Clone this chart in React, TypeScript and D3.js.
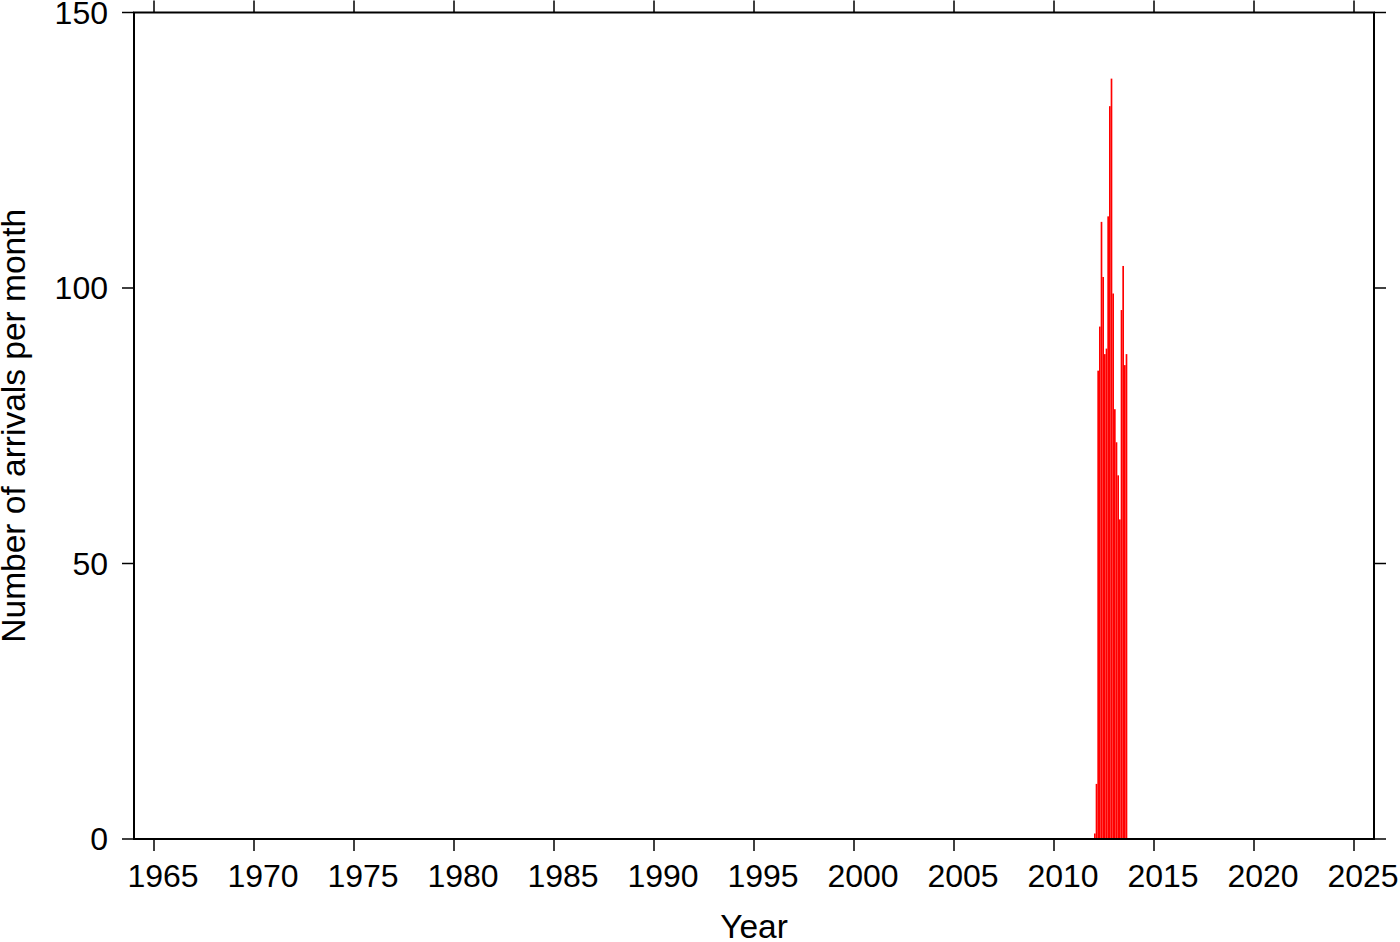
import React from "react";
import * as d3 from "d3";

const months: string[] = [
  "2012-01", "2012-02", "2012-03", "2012-04", "2012-05", "2012-06", "2012-07", "2012-08", "2012-09", "2012-10",
  "2012-11", "2012-12", "2013-01", "2013-02", "2013-03", "2013-04", "2013-05", "2013-06", "2013-07", "2013-08",
];
const arrivals: number[] = [1, 10, 85, 93, 112, 102, 88, 89, 113, 133, 138, 99, 78, 72, 66, 58, 96, 104, 86, 88];
const xTickYears: number[] = [1965, 1970, 1975, 1980, 1985, 1990, 1995, 2000, 2005, 2010, 2015, 2020, 2025];
const yTicks: number[] = [0, 50, 100, 150];

const W = 1400;
const H = 942;
const FONT = "'Liberation Sans', Arial, Helvetica, sans-serif";

export default function App() {
  const left = 134, right = 1374, top = 12.5, bottom = 839;
  const x = d3.scaleLinear().domain([1964, 2026]).range([left, right]);
  const y = d3.scaleLinear().domain([0, 150]).range([bottom, top]);
  const tickLen = 12;

  const bars = months.map((m, i) => {
    const [yy, mm] = m.split("-").map(Number);
    const t0 = yy + (mm - 1) / 12;
    const t1 = yy + mm / 12;
    return { x0: x(t0), x1: x(t1), v: arrivals[i] };
  });

  return (
    <svg width={W} height={H} style={{ position: "absolute", left: 0, top: 0, background: "#fff" }}>
      <rect x={0} y={0} width={W} height={H} fill="#fff" />
      {bars.map((b, i) => (
        <rect key={i} x={b.x0} y={y(b.v)} width={b.x1 - b.x0} height={y(0) - y(b.v)} fill="#ff0000" />
      ))}
      {/* frame */}
      <rect x={left} y={top} width={right - left} height={bottom - top} fill="none" stroke="#000" strokeWidth={2} />
      {/* x ticks */}
      {xTickYears.map((yr) => (
        <g key={yr}>
          <line x1={x(yr)} x2={x(yr)} y1={bottom} y2={bottom + tickLen} stroke="#000" strokeWidth={1.5} />
          <line x1={x(yr)} x2={x(yr)} y1={top} y2={top - tickLen} stroke="#000" strokeWidth={1.5} />
          <text x={x(yr + 0.45)} y={887} textAnchor="middle" fontFamily={FONT} fontSize={32} fill="#000">
            {yr}
          </text>
        </g>
      ))}
      {/* y ticks */}
      {yTicks.map((v) => (
        <g key={v}>
          <line x1={left - tickLen} x2={left} y1={y(v)} y2={y(v)} stroke="#000" strokeWidth={1.5} />
          <line x1={right} x2={right + tickLen} y1={y(v)} y2={y(v)} stroke="#000" strokeWidth={1.5} />
          <text x={108} y={y(v) + 11} textAnchor="end" fontFamily={FONT} fontSize={32} fill="#000">
            {v}
          </text>
        </g>
      ))}
      <text x={(left + right) / 2} y={938} textAnchor="middle" fontFamily={FONT} fontSize={33.5} fill="#000">
        Year
      </text>
      <text
        transform={`translate(25, ${(top + bottom) / 2}) rotate(-90)`}
        textAnchor="middle"
        fontFamily={FONT}
        fontSize={33.5}
        fill="#000"
      >
        Number of arrivals per month
      </text>
    </svg>
  );
}
